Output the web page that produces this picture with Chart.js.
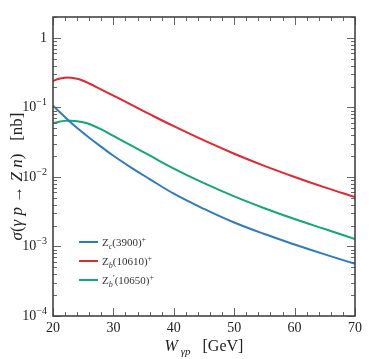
<!DOCTYPE html>
<html>
<head>
<meta charset="utf-8">
<script src="https://cdn.jsdelivr.net/npm/chart.js@4.4.0/dist/chart.umd.min.js"></script>
<style>
  html, body { margin: 0; padding: 0; background: #fff; }
  #wrap { width: 374px; height: 359px; }
</style>
</head>
<body>
<div id="wrap"><canvas id="xsec" width="374" height="359"></canvas></div>
<script>
/* ---------- data ---------- */
const energies = [20, 21, 22, 23, 24, 25, 26, 28, 30, 33, 36, 40, 45, 50, 55, 60, 65, 70];

const zc3900  = [0.106, 0.0875, 0.0724, 0.0603, 0.0507, 0.0431, 0.0367, 0.0271, 0.0202, 0.01355,
                 0.00933, 0.00575, 0.00347, 0.00221, 0.00151, 0.00107, 0.00077, 0.000562];
const zb10610 = [0.24, 0.259, 0.268, 0.268, 0.259, 0.242, 0.221, 0.181, 0.148, 0.109,
                 0.080, 0.0537, 0.0335, 0.0216, 0.01445, 0.0100, 0.00708, 0.00513];
const zb10650 = [0.059, 0.0622, 0.0641, 0.0645, 0.0635, 0.0612, 0.0578, 0.0483, 0.0389, 0.0282,
                 0.0204, 0.0132, 0.00813, 0.00525, 0.00355, 0.00248, 0.00178, 0.00128];

const seriesNames = [
  { main: "Z", sub: "c", prime: "", rest: "(3900)" },
  { main: "Z", sub: "b", prime: "", rest: "(10610)" },
  { main: "Z", sub: "b", prime: "\u2032", rest: "(10650)" }
];
const seriesColors = ["#2e7cbf", "#e2272e", "#14a676"];

const xTicks = [20, 30, 40, 50, 60, 70];
const yExponents = [-4, -3, -2, -1, 0];

const SERIF = "'Liberation Serif', 'DejaVu Serif', serif";

/* ---------- small helpers for text with sub/superscripts ---------- */
function richWidth(ctx, parts) {
  let w = 0;
  parts.forEach(p => { ctx.font = p.font; w += ctx.measureText(p.t).width; });
  return w;
}
function richDraw(ctx, parts, x, y) {
  ctx.textAlign = "left";
  parts.forEach(p => {
    ctx.font = p.font;
    ctx.fillText(p.t, x, y + (p.dy || 0));
    x += ctx.measureText(p.t).width;
  });
}

/* ---------- frame, inward ticks, labels, legend ---------- */
const framePlugin = {
  id: "frame",
  afterDraw(chart) {
    const ctx = chart.ctx;
    const a = chart.chartArea;
    const xs = chart.scales.x, ys = chart.scales.y;
    ctx.save();

    // ticks
    ctx.strokeStyle = "#666";
    ctx.lineWidth = 1;
    ctx.beginPath();
    for (let v = 20; v <= 70; v += 2) {
      const px = Math.round(xs.getPixelForValue(v)) + 0.5;
      const len = v % 10 === 0 ? 8 : 4;
      ctx.moveTo(px, a.bottom); ctx.lineTo(px, a.bottom - len);
      ctx.moveTo(px, a.top); ctx.lineTo(px, a.top + len);
    }
    yExponents.forEach(e => {
      for (let m = 1; m <= 9; m++) {
        const v = m * Math.pow(10, e);
        if (v > ys.max) break;
        const py = Math.round(ys.getPixelForValue(v)) + 0.5;
        const len = m === 1 ? 8 : 4;
        ctx.moveTo(a.left, py); ctx.lineTo(a.left + len, py);
        ctx.moveTo(a.right, py); ctx.lineTo(a.right - len, py);
      }
    });
    ctx.stroke();

    // frame
    ctx.strokeStyle = "#444";
    ctx.lineWidth = 1.6;
    ctx.strokeRect(a.left, a.top, a.right - a.left, a.bottom - a.top);

    ctx.fillStyle = "#222";

    // x tick labels
    ctx.font = "14px " + SERIF;
    ctx.textAlign = "center";
    ctx.textBaseline = "alphabetic";
    xTicks.forEach(v => ctx.fillText(String(v), xs.getPixelForValue(v), a.bottom + 15.5));

    // y tick labels
    ctx.textBaseline = "middle";
    yExponents.forEach(e => {
      const py = ys.getPixelForValue(Math.pow(10, e));
      const parts = e === 0
        ? [{ t: "1", font: "14px " + SERIF }]
        : [{ t: "10", font: "14px " + SERIF }, { t: "\u2212" + (-e), font: "10px " + SERIF, dy: -5 }];
      richDraw(ctx, parts, a.left - 6 - richWidth(ctx, parts), py);
    });

    // x title
    ctx.textBaseline = "alphabetic";
    const xt = [
      { t: "W", font: "italic 16px " + SERIF },
      { t: " \u03b3p", font: "italic 11px " + SERIF, dy: 4 },
      { t: "   [GeV]", font: "16px " + SERIF }
    ];
    richDraw(ctx, xt, (a.left + a.right) / 2 - richWidth(ctx, xt) / 2, 351);

    // y title (rotated)
    const yt = [
      { t: "\u03c3", font: "italic 17px " + SERIF },
      { t: "(", font: "17px " + SERIF },
      { t: "\u03b3 p", font: "italic 17px " + SERIF },
      { t: " \u2192 ", font: "17px " + SERIF },
      { t: "Z n", font: "italic 17px " + SERIF },
      { t: ")   [nb]", font: "17px " + SERIF }
    ];
    ctx.translate(22, (a.top + a.bottom) / 2 + 10);
    ctx.rotate(-Math.PI / 2);
    richDraw(ctx, yt, -richWidth(ctx, yt) / 2, 0);
    ctx.setTransform(1, 0, 0, 1, 0, 0);

    // legend
    const lx = a.left + 26, ly = a.bottom - 74;
    seriesNames.forEach((s, i) => {
      const y = ly + i * 19;
      ctx.strokeStyle = seriesColors[i];
      ctx.lineWidth = 2;
      ctx.beginPath();
      ctx.moveTo(lx, y); ctx.lineTo(lx + 19, y);
      ctx.stroke();
      ctx.fillStyle = "#333";
      ctx.textBaseline = "alphabetic";
      const parts = [
        { t: s.main, font: "11px " + SERIF },
        { t: s.sub, font: "italic 8px " + SERIF, dy: 2.5 }
      ];
      if (s.prime) parts.push({ t: s.prime, font: "9px " + SERIF, dy: -3 });
      parts.push({ t: s.rest, font: "11px " + SERIF });
      parts.push({ t: "+", font: "8px " + SERIF, dy: -4 });
      richDraw(ctx, parts, lx + 23, y + 4);
    });

    ctx.restore();
  }
};

/* ---------- chart ---------- */
function makeSet(values, i) {
  return {
    label: seriesNames[i].main + seriesNames[i].sub + seriesNames[i].prime + seriesNames[i].rest + "+",
    data: energies.map((w, k) => ({ x: w, y: values[k] })),
    borderColor: seriesColors[i],
    backgroundColor: seriesColors[i],
    borderWidth: 2,
    pointRadius: 0,
    fill: false,
    tension: 0.4
  };
}

new Chart(document.getElementById("xsec"), {
  type: "line",
  data: {
    datasets: [makeSet(zc3900, 0), makeSet(zb10610, 1), makeSet(zb10650, 2)]
  },
  options: {
    responsive: false,
    animation: false,
    devicePixelRatio: 1,
    layout: { padding: { top: 17, right: 19, left: 0, bottom: 0 } },
    plugins: { legend: { display: false }, tooltip: { enabled: false } },
    scales: {
      x: {
        type: "linear", min: 20, max: 70,
        ticks: { display: false },
        grid: { display: false },
        border: { display: false },
        afterFit: s => { s.height = 43; }
      },
      y: {
        type: "logarithmic", min: 1e-4, max: 2,
        ticks: { display: false },
        grid: { display: false },
        border: { display: false },
        afterFit: s => { s.width = 53; }
      }
    }
  },
  plugins: [framePlugin]
});
</script>
</body>
</html>
